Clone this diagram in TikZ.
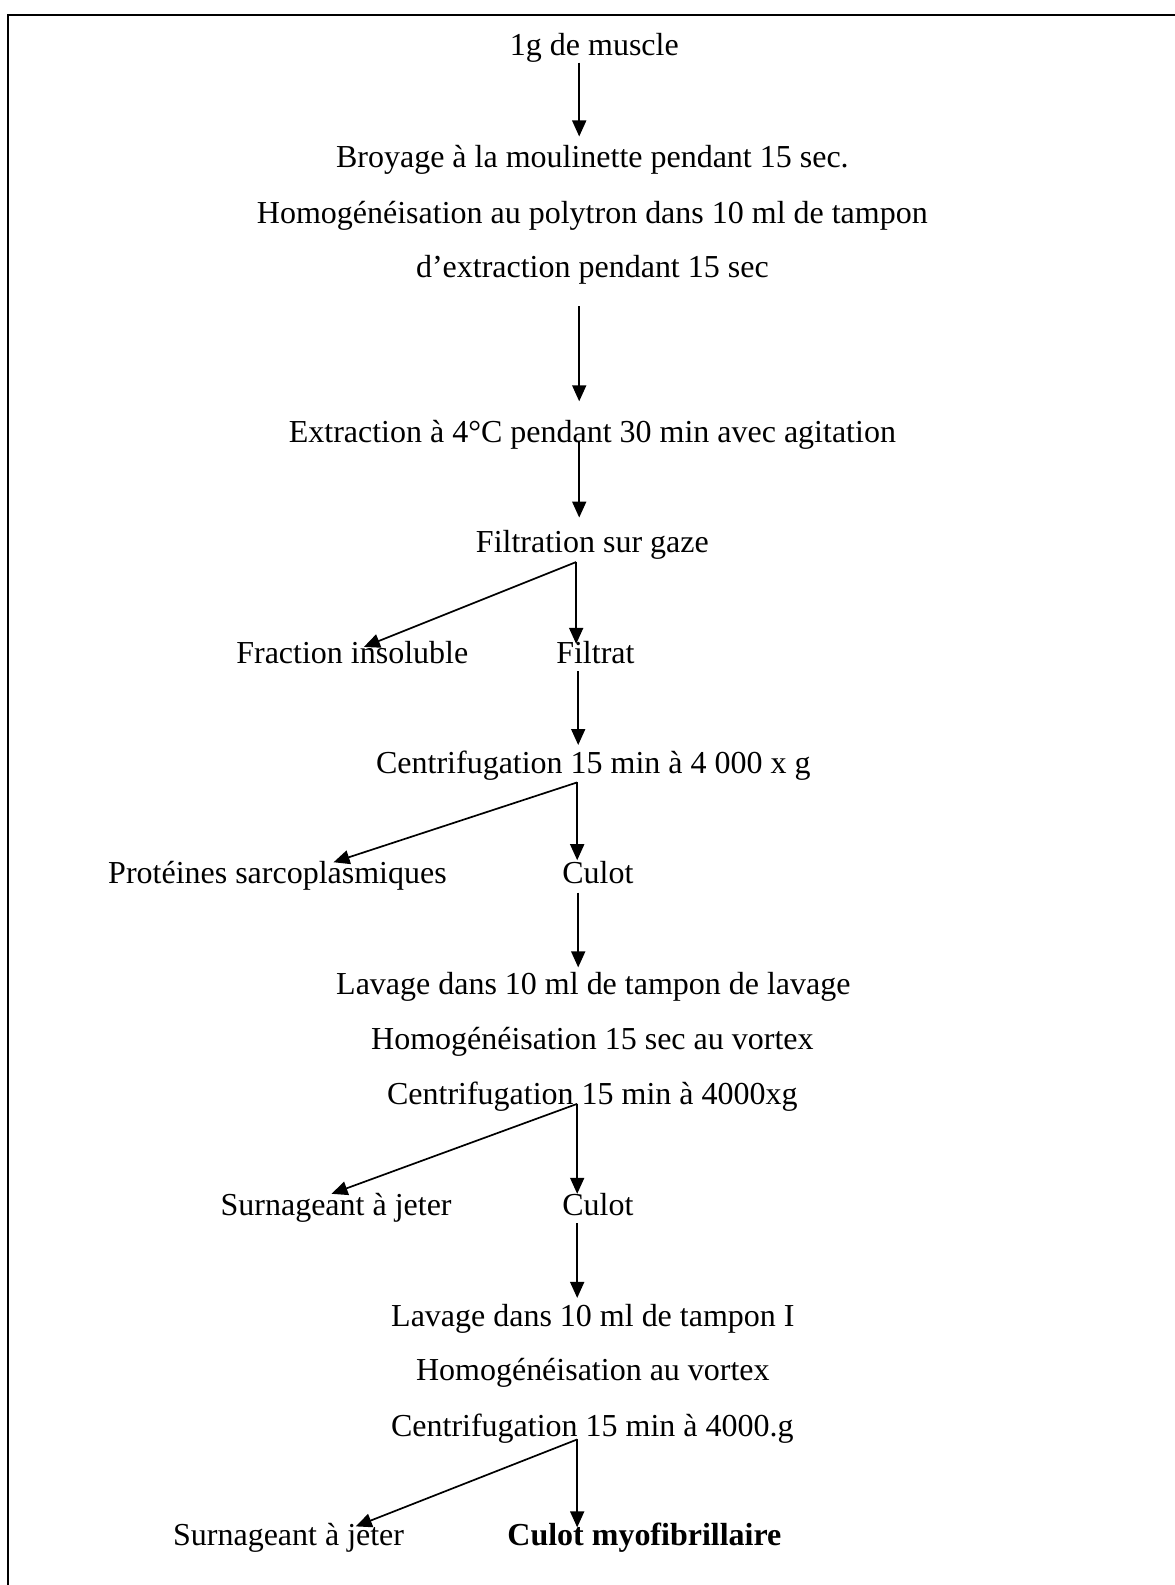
\documentclass[tikz,border=0pt]{standalone}
\usepackage{fontspec}
\setmainfont{Liberation Serif}
\usetikzlibrary{arrows.meta}
\begin{document}
\begin{tikzpicture}[x=1.0112pt,y=-1.0112pt,
  lbl/.style={anchor=base,inner sep=0pt,font=\fontsize{32}{38}\selectfont},
  flow/.style={line width=1.7pt,-{Triangle[width=14pt,length=16pt]}},
  frame/.style={line width=2pt}]
\useasboundingbox (0,0) rectangle (1162,1568);
\draw[frame] (7.9,1568) -- (7.9,14.8) -- (1162,14.8);
% texts
\node[lbl] (t1) at (588,55) {1g de muscle};
\node[lbl] (t2) at (586,166) {Broyage à la moulinette pendant 15 sec.};
\node[lbl] (t3) at (586,221) {Homogénéisation au polytron dans 10 ml de tampon};
\node[lbl] (t4) at (586,275) {d’extraction pendant 15 sec};
\node[lbl] (t5) at (586,438) {Extraction à 4°C pendant 30 min avec agitation};
\node[lbl] (t6) at (586,547) {Filtration sur gaze};
\node[lbl] (t7a) at (348.5,656) {Fraction insoluble};
\node[lbl] (t7b) at (589,656) {Filtrat};
\node[lbl] (t8) at (587,765) {Centrifugation 15 min à 4 000 x g};
\node[lbl] (t9a) at (274.5,874) {Protéines sarcoplasmiques};
\node[lbl] (t9b) at (591.5,874) {Culot};
\node[lbl] (t10) at (587,984) {Lavage dans 10 ml de tampon de lavage};
\node[lbl] (t11) at (586,1038) {Homogénéisation 15 sec au vortex};
\node[lbl] (t12) at (586,1093) {Centrifugation 15 min à 4000xg};
\node[lbl] (t13a) at (332.5,1202) {Surnageant à jeter};
\node[lbl] (t13b) at (591.5,1202) {Culot};
\node[lbl] (t14) at (586.5,1312) {Lavage dans 10 ml de tampon I};
\node[lbl] (t15) at (586.5,1366) {Homogénéisation au vortex};
\node[lbl] (t16) at (586,1421) {Centrifugation 15 min à 4000.g};
\node[lbl] (t17a) at (285.5,1529) {Surnageant à jeter};
\node[lbl] (t17b) at (637.5,1529) {\bfseries Culot myofibrillaire};
% arrow end points
\coordinate (a1s) at (573,62);   \coordinate (a1e) at (573,135);
\coordinate (a2s) at (573,303);  \coordinate (a2e) at (573,397);
\coordinate (a3s) at (573,437);  \coordinate (a3e) at (573,512);
\coordinate (b1) at (570,556);   \coordinate (b1l) at (360,640); \coordinate (b1r) at (570,637);
\coordinate (a4s) at (572,664);  \coordinate (a4e) at (572,737);
\coordinate (b2) at (571,774);   \coordinate (b2l) at (330,853); \coordinate (b2r) at (571,851);
\coordinate (a5s) at (572,883);  \coordinate (a5e) at (572,957);
\coordinate (b3) at (571,1092);  \coordinate (b3l) at (328,1181); \coordinate (b3r) at (571,1181);
\coordinate (a6s) at (571,1210); \coordinate (a6e) at (571,1284);
\coordinate (b4) at (571,1424);  \coordinate (b4l) at (352,1510); \coordinate (b4r) at (571,1511);
% arrows
\draw[flow] (a1s) -- (a1e);
\draw[flow] (a2s) -- (a2e);
\draw[flow] (a3s) -- (a3e);
\draw[flow] (b1) -- (b1l);
\draw[flow] (b1) -- (b1r);
\draw[flow] (a4s) -- (a4e);
\draw[flow] (b2) -- (b2l);
\draw[flow] (b2) -- (b2r);
\draw[flow] (a5s) -- (a5e);
\draw[flow] (b3) -- (b3l);
\draw[flow] (b3) -- (b3r);
\draw[flow] (a6s) -- (a6e);
\draw[flow] (b4) -- (b4l);
\draw[flow] (b4) -- (b4r);
\end{tikzpicture}
\end{document}
